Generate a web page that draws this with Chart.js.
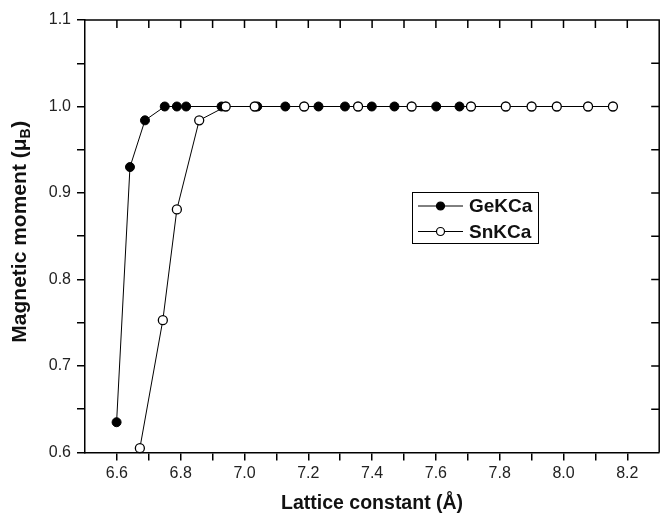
<!DOCTYPE html>
<html><head><meta charset="utf-8">
<script src="https://cdn.jsdelivr.net/npm/chart.js@4.4.0/dist/chart.umd.min.js"></script>
<style>html,body{margin:0;padding:0;background:#fff;overflow:hidden}</style>
</head><body>
<canvas id="c" width="665" height="513"></canvas>
<script>
// ---- data ----
const seriesNames = ['GeKCa', 'SnKCa'];
const geX = [6.599, 6.641, 6.688, 6.750, 6.788, 6.817, 6.928, 7.040, 7.128, 7.232, 7.315, 7.399, 7.470, 7.601, 7.674];
const geY = [0.635, 0.930, 0.984, 1.000, 1.000, 1.000, 1.000, 1.000, 1.000, 1.000, 1.000, 1.000, 1.000, 1.000, 1.000];
const snX = [6.672, 6.744, 6.788, 6.858, 6.941, 7.032, 7.187, 7.356, 7.524, 7.710, 7.819, 7.900, 7.979, 8.077, 8.155];
const snY = [0.605, 0.753, 0.881, 0.984, 1.000, 1.000, 1.000, 1.000, 1.000, 1.000, 1.000, 1.000, 1.000, 1.000, 1.000];
const xTickLabels = ['6.6', '6.8', '7.0', '7.2', '7.4', '7.6', '7.8', '8.0', '8.2'];
const yTickLabels = ['0.6', '0.7', '0.8', '0.9', '1.0', '1.1'];
const xTitle = 'Lattice constant (\u00C5)';
const yTitleMain = 'Magnetic moment (\u03BC';
const yTitleSub = 'B';
const yTitleEnd = ')';

const FONT = "'Liberation Sans', Arial, Helvetica, sans-serif";
const toPts = (xs, ys) => xs.map((x, i) => ({x: x, y: ys[i]}));
const isTenth = v => Math.abs(v * 10 - Math.round(v * 10)) < 1e-6;

const framePlugin = {
  id: 'frame',
  afterDraw(chart) {
    const ctx = chart.ctx, a = chart.chartArea;
    const xs = chart.scales.x, ys = chart.scales.y;
    ctx.save();
    ctx.strokeStyle = '#000';
    ctx.lineWidth = 1.5;
    // top & right axis lines
    ctx.beginPath();
    ctx.moveTo(a.left, a.top); ctx.lineTo(a.right, a.top); ctx.lineTo(a.right, a.bottom);
    ctx.stroke();
    // inward ticks
    ctx.beginPath();
    xs.ticks.forEach(t => {
      if (t.value <= xs.min + 1e-6 || t.value >= xs.max - 1e-6) return;
      const px = xs.getPixelForValue(t.value);
      ctx.moveTo(px, a.top); ctx.lineTo(px, a.top + 8);
    });
    ys.ticks.forEach(t => {
      if (t.value <= ys.min + 1e-6 || t.value >= ys.max - 1e-6) return;
      const py = ys.getPixelForValue(t.value);
      ctx.moveTo(a.right, py); ctx.lineTo(a.right - 8, py);
    });
    ctx.stroke();

    // legend
    const lx = 412, ly = 192, lw = 126, lh = 51;
    ctx.lineWidth = 1;
    ctx.strokeRect(lx + 0.5, ly + 0.5, lw, lh);
    const rows = [206, 231.5];
    chart.data.datasets.forEach((ds, i) => {
      const yy = rows[i];
      ctx.beginPath();
      ctx.lineWidth = 1;
      ctx.strokeStyle = '#000';
      ctx.moveTo(418, yy); ctx.lineTo(463, yy); ctx.stroke();
      ctx.beginPath();
      ctx.arc(440.5, yy, 4, 0, Math.PI * 2);
      ctx.fillStyle = ds.pointBackgroundColor;
      ctx.fill();
      ctx.lineWidth = 1.2;
      ctx.stroke();
      ctx.fillStyle = '#111';
      ctx.font = 'bold 19px ' + FONT;
      ctx.textAlign = 'left';
      ctx.textBaseline = 'middle';
      ctx.fillText(ds.label, 469, yy + 1);
    });

    // x title
    ctx.fillStyle = '#111';
    ctx.font = 'bold 19.5px ' + FONT;
    ctx.textAlign = 'center';
    ctx.textBaseline = 'alphabetic';
    ctx.fillText(xTitle, (a.left + a.right) / 2, 509);

    // y title with subscript
    ctx.translate(19, 232);
    ctx.rotate(-Math.PI / 2);
    ctx.textAlign = 'left';
    const fMain = 'bold 21px ' + FONT, fSub = 'bold 14px ' + FONT;
    ctx.font = fMain; const w1 = ctx.measureText(yTitleMain).width; const w3 = ctx.measureText(yTitleEnd).width;
    ctx.font = fSub; const w2 = ctx.measureText(yTitleSub).width;
    let x0 = -(w1 + w2 + w3) / 2;
    ctx.font = fMain; ctx.fillText(yTitleMain, x0, 7);
    ctx.font = fSub; ctx.fillText(yTitleSub, x0 + w1, 11);
    ctx.font = fMain; ctx.fillText(yTitleEnd, x0 + w1 + w2 + 0.5, 7);
    ctx.restore();
  }
};

new Chart(document.getElementById('c'), {
  type: 'scatter',
  data: {
    datasets: [
      {
        label: seriesNames[0], data: toPts(geX, geY), showLine: true,
        borderColor: '#000', borderWidth: 1,
        pointRadius: 4.5, pointBackgroundColor: '#000', pointBorderColor: '#000', pointBorderWidth: 1,
        order: 1, clip: false
      },
      {
        label: seriesNames[1], data: toPts(snX, snY), showLine: true,
        borderColor: '#000', borderWidth: 1,
        pointRadius: 4.5, pointBackgroundColor: '#fff', pointBorderColor: '#000', pointBorderWidth: 1.3,
        order: 0, clip: false
      }
    ]
  },
  options: {
    responsive: false, animation: false, devicePixelRatio: 1,
    layout: {padding: {top: 20, right: 1, left: 0, bottom: 0}},
    plugins: {legend: {display: false}, tooltip: {enabled: false}},
    scales: {
      x: {
        type: 'linear', min: 6.5, max: 8.3,
        afterFit: s => { s.height = 60.5; },
        border: {display: true, color: '#000', width: 1.5},
        grid: {
          drawOnChartArea: false, drawTicks: true, tickLength: 8, lineWidth: 1.5,
          tickColor: c => (c.tick && (Math.abs(c.tick.value - 6.5) < 1e-6 || Math.abs(c.tick.value - 8.3) < 1e-6)) ? 'rgba(0,0,0,0)' : '#000'
        },
        ticks: {
          stepSize: 0.1, autoSkip: false, maxRotation: 0, padding: 3,
          color: '#222', font: {family: FONT, size: 16},
          callback: v => { if (!isTenth(v)) return ''; const s = v.toFixed(1); return xTickLabels.includes(s) ? s : ''; }
        }
      },
      y: {
        type: 'linear', min: 0.6, max: 1.1,
        afterFit: s => { s.width = 85; },
        border: {display: true, color: '#000', width: 1.5},
        grid: {drawOnChartArea: false, drawTicks: true, tickLength: 8, lineWidth: 1.5, tickColor: '#000'},
        ticks: {
          stepSize: 0.05, autoSkip: false, padding: 6,
          color: '#222', font: {family: FONT, size: 16},
          callback: v => { if (!isTenth(v)) return ''; const s = v.toFixed(1); return yTickLabels.includes(s) ? s : ''; }
        }
      }
    }
  },
  plugins: [framePlugin]
});
</script>
</body></html>
